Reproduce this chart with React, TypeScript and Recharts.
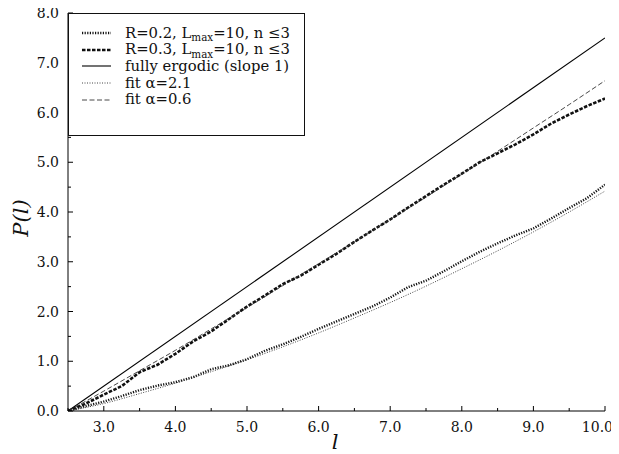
import { LineChart, Line, XAxis, YAxis, Legend } from "recharts"

// axis ticks
const lTicks = [2.5, 3, 3.5, 4, 4.5, 5, 5.5, 6, 6.5, 7, 7.5, 8, 8.5, 9, 9.5, 10]
const pTicks = [0, 0.5, 1, 1.5, 2, 2.5, 3, 3.5, 4, 4.5, 5, 5.5, 6, 6.5, 7, 7.5, 8]

// measured curves, sampled every 0.25 in l
const dataL = [
  2.5, 2.75, 3, 3.25, 3.5, 3.75, 4, 4.25, 4.5, 4.75, 5, 5.25, 5.5, 5.75, 6, 6.25,
  6.5, 6.75, 7, 7.25, 7.5, 7.75, 8, 8.25, 8.5, 8.75, 9, 9.25, 9.5, 9.75, 10,
]
const r02P = [
  0, 0.1, 0.19, 0.3, 0.42, 0.51, 0.58, 0.68, 0.84, 0.92, 1.04, 1.21, 1.34, 1.49, 1.65, 1.8,
  1.95, 2.1, 2.28, 2.49, 2.62, 2.81, 3.01, 3.2, 3.37, 3.53, 3.67, 3.87, 4.08, 4.28, 4.55,
]
const r03P = [
  0, 0.15, 0.33, 0.5, 0.78, 0.93, 1.15, 1.4, 1.6, 1.85, 2.1, 2.32, 2.55, 2.72, 2.94, 3.16,
  3.4, 3.63, 3.85, 4.09, 4.32, 4.55, 4.77, 5.0, 5.18, 5.36, 5.56, 5.78, 5.96, 6.13, 6.28,
]

// fits, sampled every 0.5
const fitL = [2.5, 3, 3.5, 4, 4.5, 5, 5.5, 6, 6.5, 7, 7.5, 8, 8.5, 9, 9.5, 10]
const fit21P = [0, 0.15, 0.35, 0.56, 0.79, 1.03, 1.29, 1.57, 1.87, 2.18, 2.51, 2.86, 3.22, 3.6, 4.0, 4.42]
const fit06P = [0, 0.4, 0.81, 1.22, 1.65, 2.08, 2.52, 2.96, 3.4, 3.85, 4.3, 4.76, 5.22, 5.69, 6.16, 6.64]

const ergodicL = [2.5, 10]
const ergodicP = [0, 7.5]

const zip = (xs: number[], ys: number[]) => xs.map((l, i) => ({ l, p: ys[i] }))

const FONT = "'DejaVu Serif', serif"

const Sub = ({ children }: { children: string }) => (
  <span style={{ fontSize: "70%", position: "relative", top: "0.3em" }}>{children}</span>
)

const series = [
  { key: "r02", data: zip(dataL, r02P), width: 2.4, dash: "1.2 1.4", color: "#111", type: "linear",
    label: <>R=0.2, L<Sub>max</Sub>=10, n ≤3</> },
  { key: "r03", data: zip(dataL, r03P), width: 2.6, dash: "3.5 1.5", color: "#111", type: "linear",
    label: <>R=0.3, L<Sub>max</Sub>=10, n ≤3</> },
  { key: "erg", data: zip(ergodicL, ergodicP), width: 1.1, dash: undefined, color: "#000", type: "linear",
    label: <>fully ergodic (slope 1)</> },
  { key: "fit21", data: zip(fitL, fit21P), width: 1, dash: "1 1.5", color: "#444", type: "monotone",
    label: <>fit α=2.1</> },
  { key: "fit06", data: zip(fitL, fit06P), width: 0.9, dash: "5 2.5", color: "#333", type: "monotone",
    label: <>fit α=0.6</> },
]

const BottomTick = (props: any) => {
  const { x, y, payload } = props
  const v = payload.value
  const major = Number.isInteger(v)
  // the last label would run past the page edge, so it is right-aligned near the edge
  const last = v === lTicks[lTicks.length - 1]
  return (
    <g>
      <line x1={x} x2={x} y1={y - 11} y2={y - 11 - (major ? 5 : 3)} stroke="#000" />
      {major && (
        <text
          x={last ? x + 8 : x}
          y={y}
          dy="0.71em"
          textAnchor={last ? "end" : "middle"}
          fontFamily={FONT}
          fontSize={14}
          fill="#111"
        >
          {v.toFixed(1)}
        </text>
      )}
    </g>
  )
}

const TopTick = (props: any) => {
  const { x, y, payload } = props
  const major = Number.isInteger(payload.value)
  return <line x1={x} x2={x} y1={y} y2={y + (major ? 5 : 3)} stroke="#000" />
}

const LeftTick = (props: any) => {
  const { x, y, payload } = props
  const v = payload.value
  const major = Number.isInteger(v)
  return (
    <g>
      <line x1={x + 9} x2={x + 9 + (major ? 5 : 3)} y1={y} y2={y} stroke="#000" />
      {major && (
        <text x={x} y={y} dy="0.36em" textAnchor="end" fontFamily={FONT} fontSize={14} fill="#111">
          {v.toFixed(1)}
        </text>
      )}
    </g>
  )
}

const RightTick = (props: any) => {
  const { x, y, payload } = props
  const major = Number.isInteger(payload.value)
  return <line x1={x} x2={x - (major ? 5 : 3)} y1={y} y2={y} stroke="#000" />
}

const LegendBox = () => (
  <div
    style={{
      boxSizing: "border-box",
      width: 237,
      height: 123,
      border: "1px solid #111",
      background: "#fff",
      fontFamily: FONT,
      fontSize: 14.8,
      color: "#111",
      paddingTop: 11,
    }}
  >
    {series.map((s) => (
      <div key={s.key} style={{ display: "flex", alignItems: "center", height: 16.6, whiteSpace: "nowrap" }}>
        <svg width={56} height={10} style={{ flex: "none" }}>
          <line x1={13} x2={42} y1={5} y2={5} stroke={s.color} strokeWidth={s.width} strokeDasharray={s.dash} />
        </svg>
        <span style={{ lineHeight: 1 }}>{s.label}</span>
      </div>
    ))}
  </div>
)

export default function App() {
  return (
    <div style={{ width: 611, height: 446, background: "#fff" }}>
      <style>{"html,body{overflow:hidden} .recharts-surface{overflow:visible}"}</style>
      <LineChart width={611} height={446} margin={{ top: 5, right: 14, left: 0, bottom: 0 }}>
        <XAxis
          xAxisId="b"
          dataKey="l"
          type="number"
          domain={[2.5, 10]}
          ticks={lTicks}
          interval={0}
          height={43}
          tickSize={0}
          tickMargin={11}
          tick={<BottomTick />}
          axisLine={{ stroke: "#000" }}
          allowDataOverflow
          label={{
            content: () => (
              <text x={327} y={441} textAnchor="middle" fontFamily={FONT} fontStyle="italic" fontSize={21} fill="#111">
                l
              </text>
            ),
          }}
        />
        <XAxis
          xAxisId="t"
          orientation="top"
          type="number"
          domain={[2.5, 10]}
          ticks={lTicks}
          interval={0}
          height={0}
          tickSize={0}
          tickMargin={0}
          tick={<TopTick />}
          axisLine={{ stroke: "#000" }}
          allowDataOverflow
        />
        <YAxis
          yAxisId="l"
          dataKey="p"
          type="number"
          domain={[0, 8]}
          ticks={pTicks}
          interval={0}
          width={60}
          tickSize={0}
          tickMargin={9}
          tick={<LeftTick />}
          axisLine={{ stroke: "#000" }}
          allowDataOverflow
          label={{
            content: () => (
              <text
                x={20}
                y={210}
                transform="rotate(-90 20 210)"
                textAnchor="middle"
                fontFamily={FONT}
                fontStyle="italic"
                fontSize={21}
                fill="#111"
              >
                P(l)
              </text>
            ),
          }}
        />
        <YAxis
          yAxisId="r"
          orientation="right"
          type="number"
          domain={[0, 8]}
          ticks={pTicks}
          interval={0}
          width={0}
          tickSize={0}
          tickMargin={0}
          tick={<RightTick />}
          axisLine={{ stroke: "#000" }}
          allowDataOverflow
        />
        {series.map((s) => (
          <Line
            key={s.key}
            xAxisId="b"
            yAxisId="l"
            data={s.data}
            dataKey="p"
            type={s.type as any}
            stroke={s.color}
            strokeWidth={s.width}
            strokeDasharray={s.dash}
            dot={false}
            activeDot={false}
            isAnimationActive={false}
          />
        ))}
        <Legend
          layout="vertical"
          align="center"
          verticalAlign="middle"
          wrapperStyle={{ position: "absolute", left: 60, top: 5, width: 237, height: 123 }}
          content={<LegendBox />}
        />
      </LineChart>
    </div>
  )
}
